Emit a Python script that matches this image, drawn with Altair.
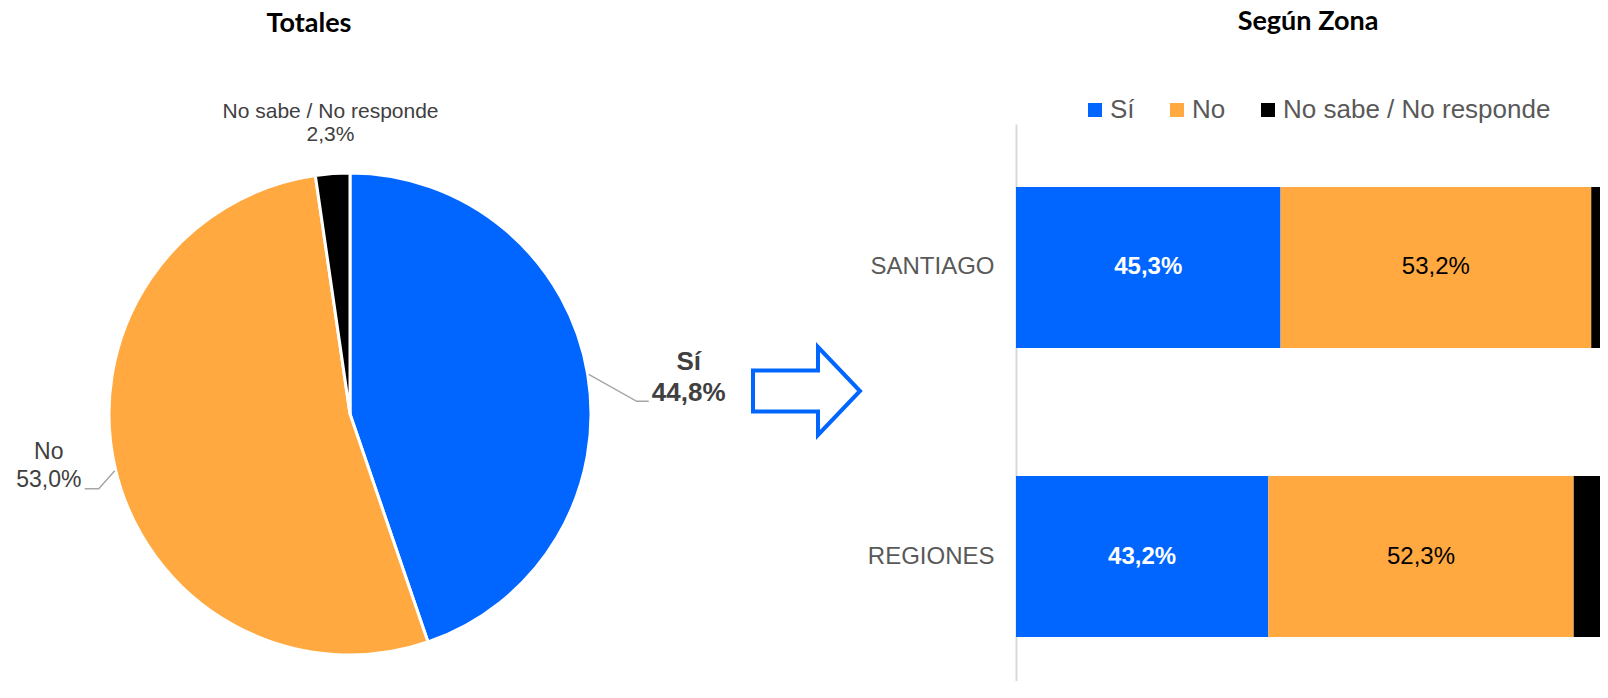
import math
import altair as alt
import pandas as pd

# ---------------- data ----------------
cats = ["Sí", "No", "No sabe / No responde"]
colors = ["#0066FF", "#FFA940", "#000000"]
tot_vals = [44.8, 53.0, 2.3]
zonas = ["SANTIAGO", "REGIONES"]
santiago_vals = [45.3, 53.2, 1.5]
regiones_vals = [43.2, 52.3, 4.5]


def fmt(v):
    return f"{v:.1f}".replace(".", ",") + "%"


# ---------------- layout constants (panel pixels) ----------------
W1, H = 862, 557
CX, CY, R = 342, 290, 241
W2 = 584
LABEL_COLOR = "#404040"
FONT = "Liberation Sans"

xs = alt.Scale(domain=[0, W1], nice=False, zero=False)
ys = alt.Scale(domain=[0, H], nice=False, zero=False, reverse=True)

# ---------------- pie ----------------
pie_df = pd.DataFrame({"cat": cats, "val": tot_vals, "orden": [0, 1, 2]})

arc = alt.Chart(pie_df).mark_arc(outerRadius=R, stroke="white", strokeWidth=3).encode(
    theta=alt.Theta("val:Q", stack=True),
    order=alt.Order("orden:Q"),
    color=alt.Color("cat:N", scale=alt.Scale(domain=cats, range=colors), legend=None),
    x=alt.value(CX),
    y=alt.value(CY),
)

# slice mid-points on the rim (derived from the data)
total = sum(tot_vals)
rim = {}
cum = 0.0
for c, v in zip(cats, tot_vals):
    a = (cum + v / 2) / total * 2 * math.pi
    rim[c] = (CX + (R + 1) * math.sin(a), CY - (R + 1) * math.cos(a))
    cum += v

leader_offsets = {
    "Sí": [(0, 0), (48, 27), (60, 27)],
    "No": [(0, 0), (-16, 18), (-30, 18)],
}
lines = []
for c, offs in leader_offsets.items():
    for i, (dx, dy) in enumerate(offs):
        lines.append({"cat": c, "i": i, "px": rim[c][0] + dx, "py": rim[c][1] + dy})
lines_df = pd.DataFrame(lines)

leader = alt.Chart(lines_df).mark_line(color="#A6A6A6", strokeWidth=1.5).encode(
    x=alt.X("px:Q", scale=xs, axis=None),
    y=alt.Y("py:Q", scale=ys, axis=None),
    detail="cat:N",
    order="i:Q",
)

# label anchors relative to leader ends / rim points
si_end = (rim["Sí"][0] + 60, rim["Sí"][1] + 27)
no_end = (rim["No"][0] - 30, rim["No"][1] + 18)
ns_rim = rim["No sabe / No responde"]
vals = dict(zip(cats, tot_vals))

bold_lbl = pd.DataFrame([
    {"px": si_end[0] + 40, "py": si_end[1] - 39, "t": "Sí"},
    {"px": si_end[0] + 40, "py": si_end[1] - 8, "t": fmt(vals["Sí"])},
])
no_lbl = pd.DataFrame([
    {"px": no_end[0] - 36, "py": no_end[1] - 37, "t": "No"},
    {"px": no_end[0] - 36, "py": no_end[1] - 9, "t": fmt(vals["No"])},
])
ns_lbl = pd.DataFrame([
    {"px": ns_rim[0] - 2, "py": ns_rim[1] - 61, "t": "No sabe / No responde"},
    {"px": ns_rim[0] - 2, "py": ns_rim[1] - 38, "t": fmt(vals["No sabe / No responde"])},
])


def label_layer(df, size, weight):
    return alt.Chart(df).mark_text(
        font=FONT, fontSize=size, fontWeight=weight, color=LABEL_COLOR,
        align="center", baseline="middle",
    ).encode(
        x=alt.X("px:Q", scale=xs, axis=None),
        y=alt.Y("py:Q", scale=ys, axis=None),
        text="t:N",
    )


arrow_path = ("M -1 -0.383 L 0.215 -0.383 L 0.215 -0.822 L 1 0 "
              "L 0.215 0.822 L 0.215 0.383 L -1 0.383 Z")
arrow = alt.Chart(pd.DataFrame({"k": [0]})).mark_point(
    shape=arrow_path, size=11449, filled=False, stroke="#0066FF",
    strokeWidth=4, opacity=1,
).encode(x=alt.value(798.5), y=alt.value(267))

pie = alt.layer(
    arc, leader,
    label_layer(bold_lbl, 26, "bold"),
    label_layer(no_lbl, 23, "normal"),
    label_layer(ns_lbl, 21, "normal"),
    arrow,
).properties(
    width=W1, height=H,
    title=alt.TitleParams("Totales", anchor="middle", dx=-130, offset=63,
                          font="Lato", fontSize=27, fontWeight="bold", color="#000000"),
)

# ---------------- bars ----------------
rows = []
for z, vs in zip(zonas, [santiago_vals, regiones_vals]):
    for o, (c, v) in enumerate(zip(cats, vs)):
        rows.append({"zona": z, "cat": c, "val": v, "orden": o, "label": fmt(v)})
bar_df = pd.DataFrame(rows)

base = alt.Chart(bar_df).transform_stack(
    stack="val", groupby=["zona"], as_=["v0", "v1"], sort=[alt.SortField("orden")]
).transform_calculate(mid="(datum.v0 + datum.v1) / 2")

yenc = alt.Y(
    "zona:N", sort=zonas,
    scale=alt.Scale(paddingInner=0.443, paddingOuter=0.185, align=0.589),
    axis=alt.Axis(title=None, ticks=False, labelPadding=22, labelFontSize=24,
                  labelColor="#595959", labelFont=FONT, domainColor="#D9D9D9",
                  domainWidth=2, grid=False),
)
xscale = alt.Scale(domain=[0, 100], nice=False, zero=True)

bars = base.mark_bar().encode(
    x=alt.X("v0:Q", scale=xscale, axis=None),
    x2="v1:Q",
    y=yenc,
    color=alt.Color(
        "cat:N", scale=alt.Scale(domain=cats, range=colors),
        legend=alt.Legend(title=None, orient="none", legendX=66, legendY=-27,
                          direction="horizontal", symbolType="square", symbolSize=196,
                          symbolStrokeWidth=0, labelFontSize=26, labelFont=FONT,
                          labelColor="#595959", labelOffset=2, columnPadding=29,
                          labelLimit=0),
    ),
)

txt_si = base.transform_filter(alt.datum.cat == "Sí").mark_text(
    font=FONT, fontSize=24, fontWeight="bold", color="white"
).encode(x=alt.X("mid:Q", scale=xscale), y=yenc, text="label:N")

txt_no = base.transform_filter(alt.datum.cat == "No").mark_text(
    font=FONT, fontSize=24, color="black"
).encode(x=alt.X("mid:Q", scale=xscale), y=yenc, text="label:N")

bar = alt.layer(bars, txt_si, txt_no).properties(
    width=W2, height=H,
    title=alt.TitleParams("Según Zona", anchor="middle", offset=61,
                          font="Lato", fontSize=27, fontWeight="bold", color="#000000"),
)

chart = alt.hconcat(pie, bar, spacing=146, bounds="flush").resolve_scale(
    color="independent"
).resolve_legend(color="independent").properties(
    padding={"left": 0, "top": 0, "right": 0, "bottom": 0}
).configure_view(stroke=None)

chart.save("out.html", embed_options={"renderer": "svg", "actions": False})
